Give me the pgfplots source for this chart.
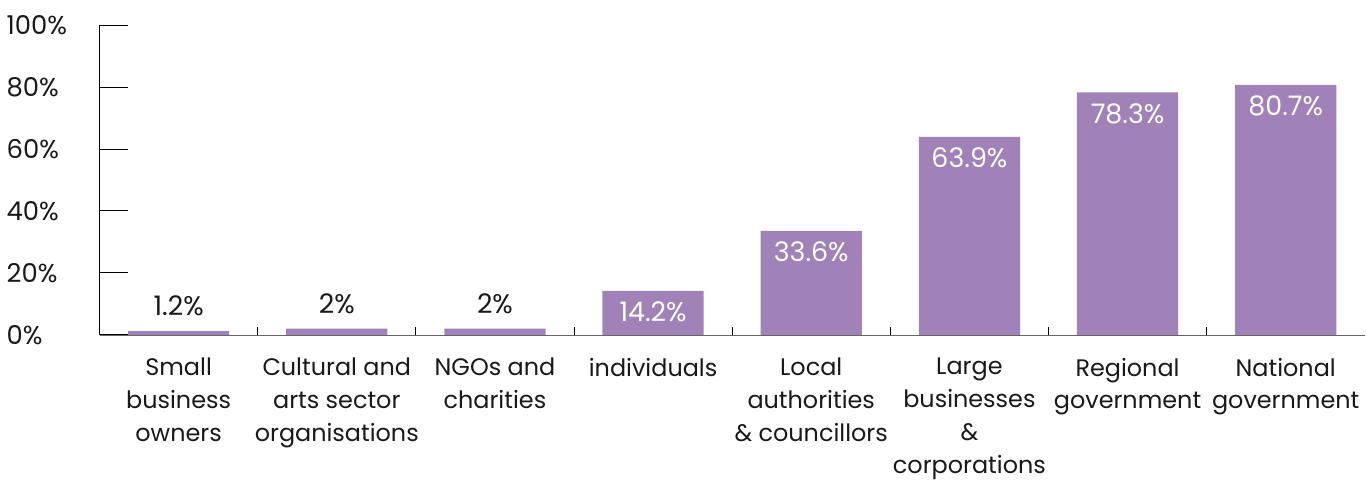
\documentclass[border=0pt]{standalone}
\usepackage{fontspec}
\setmainfont{Poppins}
\usepackage{pgfplots}
\pgfplotsset{compat=1.18}
\definecolor{barcol}{RGB}{160,130,185}
\definecolor{txt}{RGB}{25,25,25}

\begin{document}
\begin{tikzpicture}
\begin{axis}[
    scale only axis,
    width=633bp, height=155bp,
    xmin=-0.5, xmax=7.5, ymin=0, ymax=100,
    axis lines*=left,
    x axis line style={draw=gray!80!black},
    y axis line style={draw=black},
    ybar, bar width=0.64, bar shift=0pt,
    xtick={0,...,7},
    xticklabels={Small\\business\\owners,
                 Cultural and\\arts sector\\organisations,
                 NGOs and\\charities,
                 individuals,
                 Local\\authorities\\\& councillors,
                 Large\\businesses\\\&\\corporations,
                 Regional\\government,
                 National\\government},
    minor xtick={0.5,1.5,...,6.5},
    major x tick style={draw=none},
    minor x tick style={black, line width=0.5bp},
    minor tick length=4bp,
    tick align=inside,
    ytick={0,20,...,100},
    yticklabel={\pgfmathprintnumber{\tick}\%},
    major y tick style={black, line width=0.5bp},
    major tick length=14bp,
    x tick label style={font=\fontsize{12}{16.5}\selectfont, text=txt, align=center, anchor=north, yshift=-8bp},
    y tick label style={font=\fontsize{13}{15}\selectfont, text=txt, anchor=west, xshift=-50bp},
    /pgf/number format/assume math mode=true,
    nodes near coords={\pgfmathprintnumber[assume math mode=true]{\pgfplotspointmeta}\%},
    every node near coord/.append style={font=\fontsize{13.5}{15}\selectfont},
    clip=false,
  ]
  \addplot[fill=barcol, draw=none,
    every node near coord/.append style={text=txt, anchor=south, yshift=4bp}]
    coordinates {(0,1.2) (1,2) (2,2)};
  \addplot[fill=barcol, draw=none,
    every node near coord/.append style={text=white, anchor=north, yshift=-2bp}]
    coordinates {(3,14.2) (4,33.6) (5,63.9) (6,78.3) (7,80.7)};
  % room above and below, as in the reference
  \path (axis cs:-0.5,108.1) (axis cs:-0.5,-45.2);
\end{axis}
\end{tikzpicture}
\end{document}
